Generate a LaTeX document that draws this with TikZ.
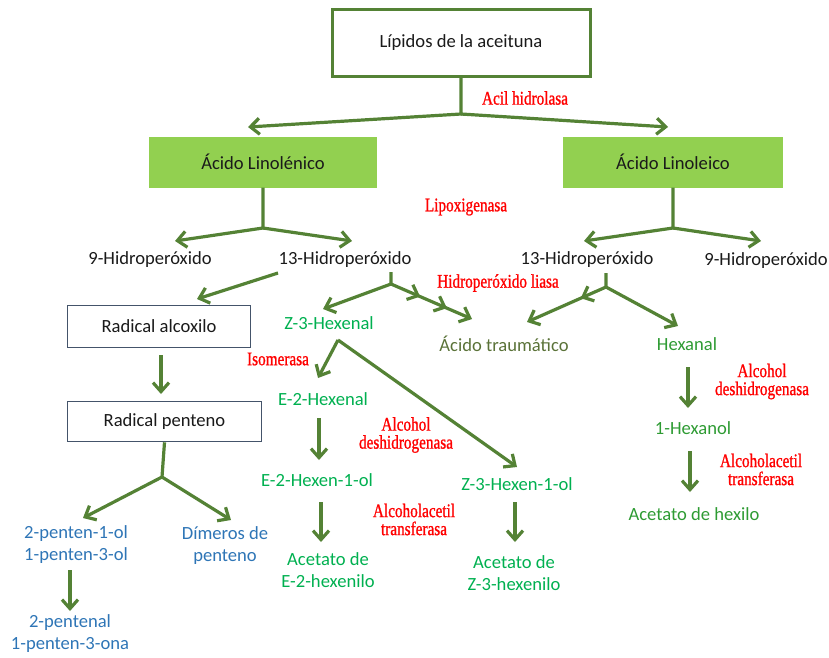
\documentclass[tikz,border=0pt]{standalone}
\usepackage{fontspec}
\setmainfont{Carlito}
\newfontfamily\redf[FakeStretch=0.79,FakeBold=1]{Liberation Serif}
\usetikzlibrary{arrows.meta,decorations.markings}
\definecolor{arr}{HTML}{548235}
\definecolor{boxg}{HTML}{92D050}
\definecolor{bluet}{HTML}{2E75B6}
\definecolor{greent}{HTML}{00B050}
\definecolor{darkg}{HTML}{2E9B33}
\definecolor{olivet}{HTML}{5A7238}
\definecolor{slate}{HTML}{44546A}
\definecolor{txt}{HTML}{1A1A1A}
\definecolor{enzred}{HTML}{FF0000}
\tikzset{
  main/.style={font=\fontsize{18.6}{22}\selectfont, text=txt, inner sep=0pt, align=center},
  enz/.style={font=\redf\fontsize{19.3}{18}\selectfont, text=enzred, inner sep=0pt, align=center},
  conn/.style={draw=arr, line width=3.2pt},
  arrw/.style={conn, -{Straight Barb[length=9pt,width=16pt]}},
  greenbox/.style={main, fill=boxg, draw=none},
  whitebox/.style={main, draw=slate, line width=1.6pt, fill=white},
  topbox/.style={main, draw=arr, line width=3pt, fill=white},
}
\begin{document}
\begin{tikzpicture}[x=1pt,y=-1pt]
\useasboundingbox (0,0) rectangle (829,657);
% boxes
\node[topbox, minimum width=258pt, minimum height=67pt] (lip) at (461,43) {Lípidos de la aceituna};
\node[greenbox, minimum width=228pt, minimum height=51pt] (lin) at (263,162) {Ácido Linolénico};
\node[greenbox, minimum width=220pt, minimum height=51pt] (lino) at (673,162) {Ácido Linoleico};
\node[whitebox, minimum width=183pt, minimum height=42pt] (alc) at (159,326.5) {Radical alcoxilo};
\node[whitebox, minimum width=194pt, minimum height=40pt] (pen) at (164.5,421.5) {Radical penteno};
% texts
\node[main] (h9L) at (150,260) {9-Hidroperóxido};
\node[main] (h13L) at (345,260) {13-Hidroperóxido};
\node[main] (h13R) at (587,260) {13-Hidroperóxido};
\node[main] (h9R) at (766,261) {9-Hidroperóxido};
\node[main, text=bluet] (p1) at (76,545) {2-penten-1-ol\\1-penten-3-ol};
\node[main, text=bluet] (dim) at (225,546) {Dímeros de\\penteno};
\node[main, text=bluet] (p2) at (70,634) {2-pentenal\\1-penten-3-ona};
\node[main, text=greent] (z3) at (329,323) {Z-3-Hexenal};
\node[main, text=greent] (e2h) at (323,399) {E-2-Hexenal};
\node[main, text=greent] (e2ol) at (317,480) {E-2-Hexen-1-ol};
\node[main, text=greent] (ace1) at (328,570) {Acetato de\\E-2-hexenilo};
\node[main, text=greent] (z3ol) at (517,484) {Z-3-Hexen-1-ol};
\node[main, text=greent] (ace2) at (514,573.5) {Acetato de\\Z-3-hexenilo};
\node[main, text=olivet] (atr) at (504,344) {Ácido traumático};
\node[main, text=darkg] (hex) at (687,344) {Hexanal};
\node[main, text=darkg] (hexol) at (693,428) {1-Hexanol};
\node[main, text=darkg] (ace3) at (694,514) {Acetato de hexilo};
% enzymes
\node[enz] (acil) at (525,98) {Acil hidrolasa};
\node[enz] (lipox) at (466,207) {Lipoxigenasa};
\node[enz] (hliasa) at (498,283) {Hidroperóxido liasa};
\node[enz] (iso) at (278,359) {Isomerasa};
\node[enz] (adh1) at (406,435) {Alcohol\\deshidrogenasa};
\node[enz] (aat1) at (414,519.5) {Alcoholacetil\\transferasa};
\node[enz] (adh2) at (762,381.5) {Alcohol\\deshidrogenasa};
\node[enz] (aat2) at (761,469.5) {Alcoholacetil\\transferasa};
% coordinates
\coordinate (j1) at (461,114);
\coordinate (t1) at (248,127);
\coordinate (t2) at (668,127);
\coordinate (j2) at (263,228);
\coordinate (t3) at (175,241);
\coordinate (t4) at (352,241);
\coordinate (j3) at (673,228);
\coordinate (t5) at (584,241);
\coordinate (t6) at (761,241);
\coordinate (a1) at (278,273);
\coordinate (t7) at (197,299);
\coordinate (j4a) at (391,272);
\coordinate (j4) at (391,284);
\coordinate (t8) at (323,309);
\coordinate (t9) at (472,319);
\coordinate (j5a) at (606,273);
\coordinate (j5) at (606,287);
\coordinate (t10) at (527,322);
\coordinate (t11) at (678,326);
\coordinate (s1) at (161,355);
\coordinate (t12) at (161,394);
\coordinate (j6) at (162,477);
\coordinate (t13) at (83,518);
\coordinate (t14) at (231,520);
\coordinate (s2) at (70,570);
\coordinate (t15) at (70,611);
\coordinate (j7) at (338,340);
\coordinate (t16) at (318,378);
\coordinate (t17) at (517,467);
\coordinate (s3) at (319,418);
\coordinate (t18) at (319,460);
\coordinate (s4) at (321,502);
\coordinate (t19) at (321,542);
\coordinate (s5) at (515,502);
\coordinate (t20) at (515,542);
\coordinate (s6) at (688,367);
\coordinate (t21) at (688,408);
\coordinate (s7) at (690,451);
\coordinate (t22) at (690,492);
% connectors
\draw[arrw] (lip.south) -- (j1) -- (t1);
\draw[arrw] (j1) -- (t2);
\draw[arrw] (lin.south) -- (j2) -- (t3);
\draw[arrw] (j2) -- (t4);
\draw[arrw] (lino.south) -- (j3) -- (t5);
\draw[arrw] (j3) -- (t6);
\draw[arrw] (a1) -- (t7);
\draw[arrw] (j4a) -- (j4) -- (t8);
\draw[arrw, postaction={decorate}, decoration={markings,
   mark=at position 0.36 with {\arrow[arr]{Straight Barb[length=9pt,width=16pt]}},
   mark=at position 0.69 with {\arrow[arr]{Straight Barb[length=9pt,width=16pt]}}}] (j4) -- (t9);
\draw[arrw] (j5a) -- (j5) -- (t11);
\draw[arrw, postaction={decorate}, decoration={markings,
   mark=at position 0.32 with {\arrow[arr]{Straight Barb[length=9pt,width=16pt]}}}] (j5) -- (t10);
\draw[arrw] (s1) -- (t12);
\draw[arrw] (pen.south) -- (j6) -- (t13);
\draw[arrw] (j6) -- (t14);
\draw[arrw] (s2) -- (t15);
\draw[arrw] (j7) -- (t16);
\draw[arrw] (j7) -- (t17);
\draw[arrw] (s3) -- (t18);
\draw[arrw] (s4) -- (t19);
\draw[arrw] (s5) -- (t20);
\draw[arrw] (s6) -- (t21);
\draw[arrw] (s7) -- (t22);
\end{tikzpicture}
\end{document}
